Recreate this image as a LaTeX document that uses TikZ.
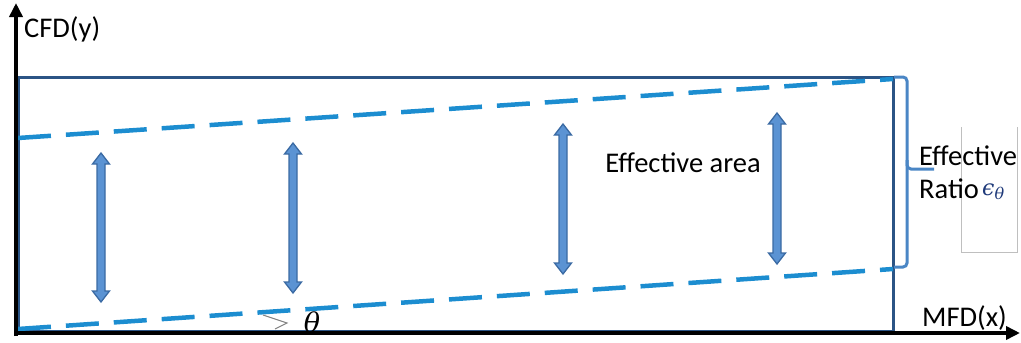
\documentclass[tikz,border=0pt]{standalone}
\usepackage{fontspec}
\setmainfont{Carlito}
\newfontfamily\grk{DejaVu Serif}
\usetikzlibrary{arrows.meta}
\definecolor{boxblue}{HTML}{2B5485}
\definecolor{dashblue}{HTML}{1C8DD0}
\definecolor{arrfill}{HTML}{5B93D3}
\definecolor{arrline}{HTML}{3A6AA3}
\definecolor{brk}{HTML}{4A86C5}
\definecolor{epsblue}{HTML}{1F3A7A}
\newcommand\dblarr[3]{%
  \draw[dblarrow] ({#1-4},{#2+11}) -- ({#1-8.5},{#2+11}) -- (#1,#2) -- ({#1+8.5},{#2+11}) -- ({#1+4},{#2+11})
   -- ({#1+4},{#3-11}) -- ({#1+8.5},{#3-11}) -- (#1,#3) -- ({#1-8.5},{#3-11}) -- ({#1-4},{#3-11}) -- cycle;}
\begin{document}
\begin{tikzpicture}[x=1pt,y={(0,-1pt)},
  axis/.style={line width=4.5pt,-{Triangle[length=14pt,width=13pt]}},
  dashln/.style={dashblue,line width=4.5pt,dash pattern=on 33pt off 15pt},
  dblarrow/.style={draw=arrline,fill=arrfill,line width=1.3pt,line join=miter},
  lbl/.style={font=\fontsize{28.5}{31}\selectfont,inner sep=0pt}]
\useasboundingbox (0,0) rectangle (1021,343);
% effective region box
\draw[boxblue,line width=3pt] (18,77) rectangle (893,331);
% dashed bounds
\coordinate (u1) at (18,138); \coordinate (u2) at (893,79);
\coordinate (l1) at (18,329); \coordinate (l2) at (893,269);
\draw[dashln] (u1) -- (u2);
\draw[dashln] (l1) -- (l2);
% axes
\coordinate (O) at (16,333);
\coordinate (ytip) at (16,3);
\coordinate (xtip) at (1020,333);
\draw[axis] (16,336) -- (ytip);
\draw[axis] (14,333) -- (xtip);
% double arrows
\dblarr{101}{153}{302}
\dblarr{293}{143}{293}
\dblarr{563}{124}{274}
\dblarr{777}{113}{264}
% bracket
\draw[brk,line width=3pt,rounded corners=4pt] (894,77) -- (907,77) -- (907,169) -- (934,169);
\draw[brk,line width=3pt,rounded corners=4pt] (907,160) -- (907,267) -- (894,267);
% gray text frame
\draw[gray!50,line width=0.8pt] (961,127) -- (961,252) -- (1017,252) -- (1017,127);
% labels
\node[lbl,anchor=west] (cfd) at (24,29) {CFD(y)};
\node[lbl,anchor=west] (mfd) at (922,318) {MFD(x)};
\node[lbl,anchor=center] (area) at (683,163) {Effective area};
\node[lbl,anchor=west] (eff) at (919,156) {Effective};
\node[lbl,anchor=west] (ratio) at (919,189) {Ratio};
\node[inner sep=0pt,anchor=west,text=epsblue] (eps) at (982,192)
  {{\grk\itshape\fontsize{22}{24}\selectfont ϵ}\raisebox{-4pt}{\grk\itshape\fontsize{16}{18}\selectfont θ}};
\node[inner sep=0pt,font=\fontsize{27}{29}\selectfont\grk\itshape] (theta) at (312,322) {θ};
\draw[gray,line width=1pt] (263,315) -- (287,323) -- (275,329);
\end{tikzpicture}
\end{document}
